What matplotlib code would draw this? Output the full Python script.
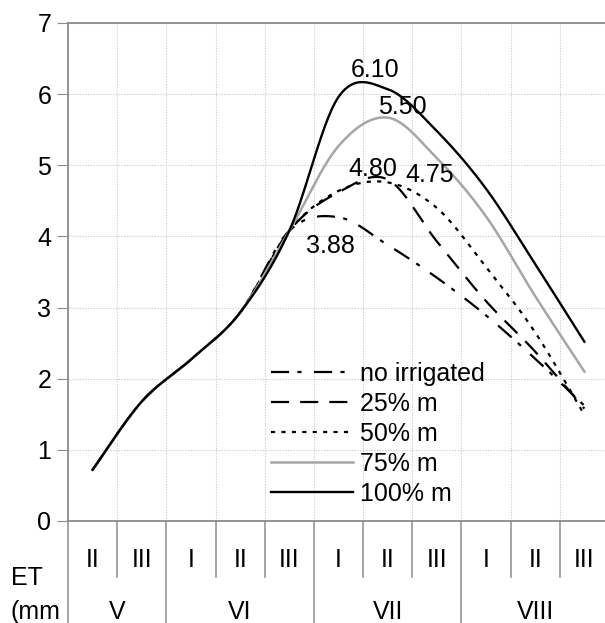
import numpy as np
import matplotlib
matplotlib.use('Agg')
import matplotlib.pyplot as plt
import matplotlib.transforms as mtransforms

plt.rcParams['font.family'] = ['Liberation Sans', 'DejaVu Sans']
plt.rcParams['lines.scale_dashes'] = False

# decades (x categories) and months
decades = ['II', 'III', 'I', 'II', 'III', 'I', 'II', 'III', 'I', 'II', 'III']
months = ['V', 'VI', 'VII', 'VIII']
month_len = [2, 3, 3, 3]

# ET values (mm/day)
no_irrigated = [0.72, 1.68, 2.27, 2.93, 4.08, 4.27, 3.88, 3.42, 2.89, 2.28, 1.62]
m25 = [0.72, 1.68, 2.27, 2.93, 4.08, 4.62, 4.80, 3.93, 3.09, 2.38, 1.58]
m50 = [0.72, 1.68, 2.27, 2.93, 4.08, 4.64, 4.76, 4.40, 3.57, 2.65, 1.49]
m75 = [0.72, 1.68, 2.27, 2.93, 4.08, 5.27, 5.67, 5.10, 4.28, 3.16, 2.10]
m100 = [0.72, 1.68, 2.27, 2.93, 4.08, 5.96, 6.07, 5.48, 4.67, 3.61, 2.52]

series_names = ['no irrigated', '25% m', '50% m', '75% m', '100% m']

# data labels: (text, x category, y value)
label_text = ['6.10', '5.50', '4.80', '4.75', '3.88']
label_x = [5.75, 6.3, 5.7, 6.85, 4.83]
label_y = [6.34, 5.82, 4.95, 4.87, 3.86]


def smooth(xs, ys, n=30):
    # Excel-style smoothed line (bezier through points, catmull-rom control points)
    p = np.column_stack([xs, ys]).astype(float)
    pts = np.vstack([p[0], p, p[-1]])
    out = []
    t = np.linspace(0, 1, n)[:, None]
    for i in range(1, len(pts) - 2):
        p0, p1, p2, p3 = pts[i - 1], pts[i], pts[i + 1], pts[i + 2]
        b1 = p1 + (p2 - p0) / 6
        b2 = p2 - (p3 - p1) / 6
        seg = ((1 - t) ** 3) * p1 + 3 * ((1 - t) ** 2) * t * b1 + 3 * (1 - t) * t ** 2 * b2 + t ** 3 * p2
        out.append(seg if i == 1 else seg[1:])
    out = np.vstack(out)
    return out[:, 0], out[:, 1]


fig = plt.figure(figsize=(6.05, 6.23), dpi=100)
ax = fig.add_axes([68 / 605, 102 / 623, 541 / 605, 498 / 623])

x = np.arange(len(decades))
styles = [
    dict(color='black', lw=1.6, linestyle=(0, (13, 6, 3, 9))),
    dict(color='black', lw=1.6, linestyle=(0, (13, 8))),
    dict(color='black', lw=1.6, linestyle=(0, (3, 4.5))),
    dict(color='#a6a6a6', lw=1.8, linestyle='-'),
    dict(color='black', lw=1.7, linestyle='-'),
]
for ys, name, st in zip([no_irrigated, m25, m50, m75, m100], series_names, styles):
    sx, sy = smooth(x, ys)
    ax.plot(sx, sy, label=name, **st)

for txt, lx, ly in zip(label_text, label_x, label_y):
    ax.text(lx, ly, txt, fontsize=18, ha='center', va='center')

ax.set_xlim(-0.5, len(decades) - 0.5)
ax.set_ylim(0, 7)
ax.set_yticks(range(0, 8))
ax.set_xticks(np.arange(-0.5, len(decades), 1), minor=False)
ax.set_xticklabels([])
ax.tick_params(axis='x', length=0)
ax.tick_params(axis='y', length=8, color='#8c8c8c', labelsize=18, pad=4)
ax.grid(True, color='#d0d0d0', linestyle=(0, (1, 1)), linewidth=0.8)
ax.set_axisbelow(True)
for s in ['left', 'top', 'bottom']:
    ax.spines[s].set_color('#8c8c8c')
    ax.spines[s].set_linewidth(1.3)
ax.spines['right'].set_visible(False)

# multi-level category axis below the plot
trans = mtransforms.blended_transform_factory(ax.transData, ax.transAxes)
row1_y, row2_y = -0.079, -0.183
sep1, bottom = -0.113, -0.21
for i, d in enumerate(decades):
    ax.text(i, row1_y, d, transform=trans, ha='center', va='center', fontsize=18)
start = 0
for m, n in zip(months, month_len):
    ax.text(start + (n - 1) / 2, row2_y, m, transform=trans, ha='center', va='center', fontsize=18)
    ax.plot([start - 0.5, start - 0.5], [0, bottom], transform=trans, color='#8c8c8c',
            lw=1.1, clip_on=False)
    for k in range(1, n):
        ax.plot([start + k - 0.5, start + k - 0.5], [0, sep1], transform=trans,
                color='#8c8c8c', lw=1.1, clip_on=False)
    start += n

fig.text(11 / 605, 1 - 578 / 623, 'ET', fontsize=18, ha='left', va='center')
fig.text(11 / 605, 1 - 612 / 623, '(mm', fontsize=18, ha='left', va='center')

ax.legend(loc='upper left', bbox_to_anchor=(0.375, 0.319), frameon=False, fontsize=18,
          handlelength=3.3, handletextpad=0.25, labelspacing=0.24, borderaxespad=0,
          borderpad=0)

fig.savefig('out.png', dpi=100)
